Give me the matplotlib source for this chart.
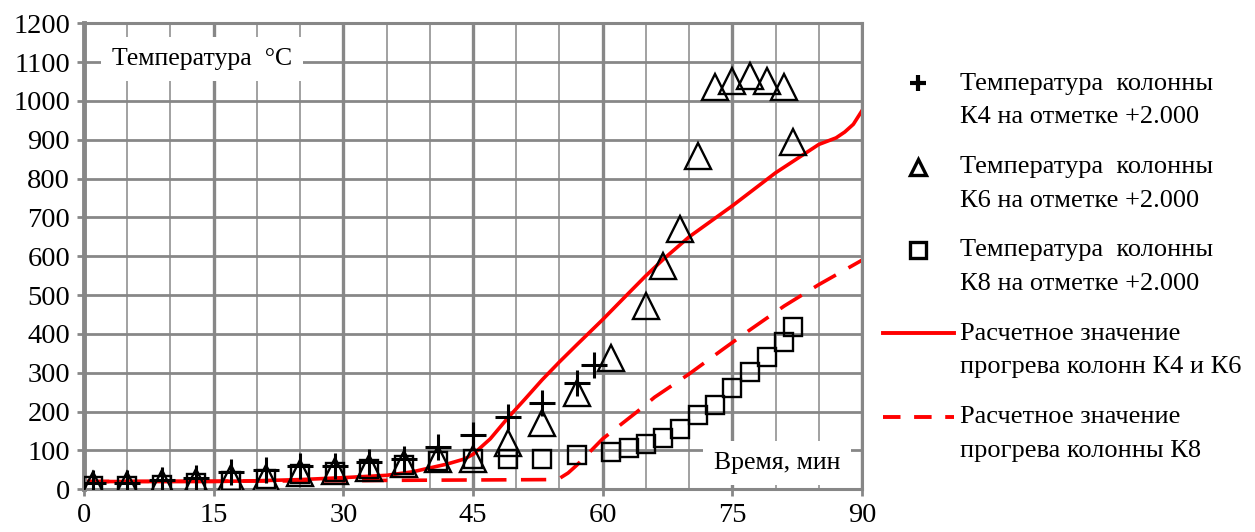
"""
Temperature of columns K4, K6, K8 vs time, with calculated heating curves.
"""

import matplotlib
matplotlib.use("Agg")
import matplotlib.pyplot as plt
from matplotlib.lines import Line2D
from matplotlib.legend_handler import HandlerLine2D
from matplotlib.ticker import MultipleLocator

plt.rcParams["font.family"] = ["Liberation Serif", "DejaVu Serif"]

# Measured data (time, min / temperature, C)
k4_time = [1, 5, 9, 13, 17, 21, 25, 29, 33, 37, 41, 45, 49, 53, 57, 59]
k4_temp = [15, 15, 25, 30, 45, 50, 60, 60, 70, 78, 108, 140, 186, 222, 274, 321]

k6_time = [1, 5, 9, 13, 17, 21, 25, 29, 33, 37, 41, 45, 49, 53, 57, 61,
           65, 67, 69, 71, 73, 75, 77, 79, 81, 82]
k6_temp = [10, 10, 15, 20, 28, 30, 43, 48, 55, 65, 78, 78, 118, 172, 247, 339,
           472, 574, 670, 859, 1037, 1052, 1065, 1052, 1037, 895]

k8_time = [1, 5, 9, 13, 17, 21, 25, 29, 33, 37, 41, 45, 49, 53, 57, 61,
           63, 65, 67, 69, 71, 73, 75, 77, 79, 81, 82]
k8_temp = [8, 8, 12, 15, 22, 27, 40, 45, 52, 62, 72, 78, 78, 78, 88, 96,
           106, 116, 132, 155, 191, 217, 261, 303, 341, 380, 419]

# Calculated heating curves
calc46_time = [0, 15, 20, 25, 30, 35, 38, 40, 42, 44, 45, 47, 49, 51, 53, 55,
               57, 60, 63, 65, 67, 70, 75, 80, 85, 87, 88, 89, 90]
calc46_temp = [20, 20, 22, 25, 30, 36, 45, 55, 65, 78, 90, 130, 183, 232, 282, 328,
               372, 437, 505, 550, 592, 650, 730, 815, 888, 905, 920, 940, 975]

calc8_time = [0, 30, 35, 45, 54, 55, 56, 57, 60, 64, 66, 70, 74, 77, 81, 85, 90]
calc8_temp = [20, 22, 23, 24, 25, 28, 42, 62, 130, 200, 237, 297, 362, 410, 472, 527, 590]

legend_labels = [
  "Температура  колонны\nК4 на отметке +2.000",
  "Температура  колонны\nК6 на отметке +2.000",
  "Температура  колонны\nК8 на отметке +2.000",
  "Расчетное значение\nпрогрева колонн К4 и К6",
  "Расчетное значение\nпрогрева колонны К8",
]

GRID = "#878787"
RED = "#ff0000"
FS = 18.5


class FirstLineHandler(HandlerLine2D):
  """Put the legend key beside the first line of a two-line label."""
  def __init__(self, shift, **kw):
    super().__init__(**kw)
    self.shift = shift

  def create_artists(self, legend, orig_handle, xdescent, ydescent,
                     width, height, fontsize, trans):
    return super().create_artists(legend, orig_handle, xdescent,
                                  ydescent - 2 * self.shift, width, height,
                                  fontsize, trans)


fig = plt.figure(figsize=(12.55, 5.32), dpi=100)
ax = fig.add_axes([84 / 1255, 1 - 489.3 / 532, (862 - 84) / 1255, (489.3 - 23.3) / 532])

ax.set_xlim(0, 90)
ax.set_ylim(0, 1200)
ax.xaxis.set_major_locator(MultipleLocator(15))
ax.xaxis.set_minor_locator(MultipleLocator(5))
ax.yaxis.set_major_locator(MultipleLocator(100))

ax.grid(True, which="major", axis="x", color=GRID, lw=2.4)
ax.grid(True, which="minor", axis="x", color=GRID, lw=1.1)
ax.grid(True, which="major", axis="y", color=GRID, lw=2.0)
ax.set_axisbelow(True)

for side in ["top", "right", "bottom"]:
  ax.spines[side].set_color(GRID)
  ax.spines[side].set_linewidth(2.2)
ax.spines["left"].set_color(GRID)
ax.spines["left"].set_linewidth(3.5)

ax.tick_params(axis="both", which="major", labelsize=20.5, color=GRID,
               width=2, length=5, pad=5)
ax.tick_params(axis="x", which="minor", length=0)

ax.plot(calc46_time, calc46_temp, color=RED, lw=2.6, zorder=2)
ax.plot(calc8_time, calc8_temp, color=RED, lw=2.6, dashes=(7, 4), zorder=2)

ax.plot(k8_time, k8_temp, ls="none", marker="s", ms=13, mfc="none",
        mec="black", mew=1.7, zorder=3)
ax.plot(k6_time, k6_temp, ls="none", marker="^", ms=19, mfc="none",
        mec="black", mew=1.7, zorder=3)
ax.plot(k4_time, k4_temp, ls="none", marker="+", ms=19,
        mec="black", mew=2.2, zorder=4)

ax.text(3.2, 1108, "Температура  °С", fontsize=FS, va="center", ha="left",
        bbox=dict(facecolor="white", edgecolor="none", pad=8), zorder=5)
ax.text(87.5, 68, "Время, мин", fontsize=FS, va="center", ha="right",
        bbox=dict(facecolor="white", edgecolor="none", pad=8), zorder=5)

# legend keys
key_plus = Line2D([], [], ls="none", marker="+", ms=12, mec="black", mew=3)
key_tri = Line2D([], [], ls="none", marker="^", ms=11, mfc="none", mec="black", mew=2.4)
key_sq = Line2D([], [], ls="none", marker="s", ms=12, mfc="none", mec="black", mew=2.4)
key_46 = Line2D([], [], color=RED, lw=2.8)
key_8 = Line2D([], [], color=RED, lw=2.8, dashes=(4.5, 3.5))
keys = [key_plus, key_tri, key_sq, key_46, key_8]

handler = FirstLineHandler(shift=11.8)
leg = fig.legend(keys, legend_labels,
                 handler_map={k: handler for k in keys},
                 loc="upper left", bbox_to_anchor=(872 / 1255, 1 - 62 / 532),
                 frameon=False, fontsize=19, handlelength=2.7, handletextpad=0.25,
                 labelspacing=1.04, borderaxespad=0)
for t in leg.get_texts():
  t.set_linespacing(1.7)

fig.savefig("out.png", dpi=100)
